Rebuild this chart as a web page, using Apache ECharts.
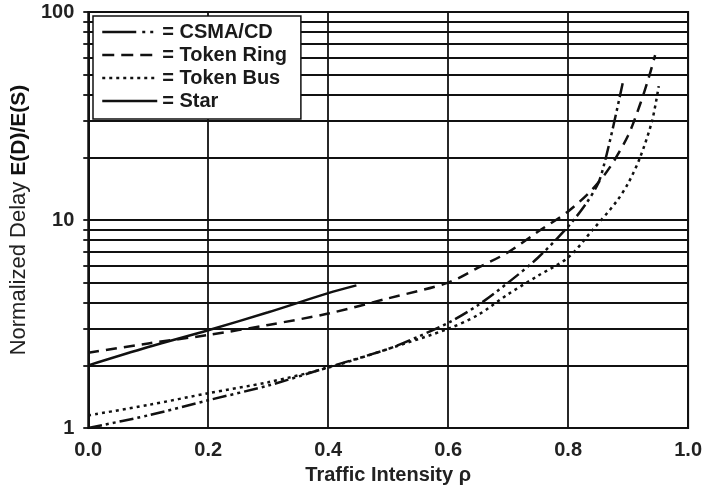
<!DOCTYPE html>
<html>
<head>
<meta charset="utf-8">
<script src="https://cdn.jsdelivr.net/npm/echarts@6/dist/echarts.min.js"></script>
<style>
  html, body { margin: 0; padding: 0; background: #fff; }
  #main { width: 705px; height: 494px; }
</style>
</head>
<body>
<div id="main"></div>
<script>
// 数据
var csmaRho   = [0, 0.1, 0.2, 0.3, 0.4, 0.5, 0.55, 0.6, 0.65, 0.7, 0.75, 0.8, 0.83, 0.85, 0.86, 0.875, 0.892];
var csmaDelay = [1.0, 1.15, 1.36, 1.6, 1.96, 2.4, 2.75, 3.2, 3.9, 5.0, 6.6, 9.3, 12, 15, 18.5, 28, 47];

var ringRho   = [0, 0.1, 0.2, 0.3, 0.4, 0.5, 0.6, 0.65, 0.7, 0.75, 0.8, 0.84, 0.87, 0.9, 0.92, 0.935, 0.945];
var ringDelay = [2.3, 2.55, 2.8, 3.13, 3.55, 4.2, 5.0, 5.9, 7.0, 8.8, 11, 14, 18, 25.5, 36, 49, 62];

var busRho    = [0, 0.1, 0.2, 0.3, 0.4, 0.5, 0.6, 0.65, 0.7, 0.75, 0.8, 0.84, 0.88, 0.9, 0.92, 0.94, 0.951];
var busDelay  = [1.15, 1.29, 1.47, 1.66, 1.95, 2.4, 3.0, 3.5, 4.4, 5.4, 6.6, 8.9, 12.2, 15, 20, 30, 44];

var starRho   = [0, 0.1, 0.2, 0.3, 0.4, 0.447];
var starDelay = [2.0, 2.45, 2.95, 3.6, 4.45, 4.85];

var seriesNames = ['CSMA/CD', 'Token Ring', 'Token Bus', 'Star'];
var yGridValues = [1, 2, 3, 4, 5, 6, 7, 8, 9, 10, 20, 30, 40, 50, 60, 70, 80, 90, 100];
var yLabelValues = [1, 10, 100];

// line patterns: plot / legend
var plotDash   = [[14, 4, 3, 4, 3, 4], [11, 7], [3, 4], 'solid'];
var legendDash = [[34, 6, 3, 5, 3, 20], [12, 7], [3, 4], 'solid'];

function pairs(xs, ys) {
    var out = [];
    for (var i = 0; i < xs.length; i++) {
        out.push([xs[i], ys[i]]);
    }
    return out;
}

var ink = '#111';
var font = '"Liberation Sans", Arial, sans-serif';

function makeLine(name, data, dash) {
    return {
        name: name,
        type: 'line',
        data: data,
        symbol: 'none',
        smooth: 0.3,
        lineStyle: { color: ink, width: 2.5, type: dash, cap: 'butt' },
        itemStyle: { color: ink },
        z: 5
    };
}

var legendData = [];
for (var k = 0; k < seriesNames.length; k++) {
    legendData.push({
        name: seriesNames[k],
        lineStyle: { type: legendDash[k], width: 2.5, color: ink }
    });
}

var myChart = echarts.init(document.getElementById('main'));

var option = {
    backgroundColor: '#fff',
    animation: false,
    textStyle: { fontFamily: font, color: ink },
    grid: {
        left: 82,
        right: 13,
        top: 12,
        bottom: 66,
        show: true,
        borderColor: ink,
        borderWidth: 2
    },
    legend: {
        data: legendData,
        orient: 'vertical',
        left: 93,
        top: 16,
        padding: [6, 14, 8, 8],
        itemGap: 3,
        itemWidth: 55,
        itemHeight: 14,
        backgroundColor: '#fff',
        borderColor: ink,
        borderWidth: 1.5,
        borderRadius: 0,
        itemStyle: { opacity: 0 },
        lineStyle: { width: 2.5 },
        formatter: function (name) { return '= ' + name; },
        textStyle: { fontFamily: font, fontSize: 20, fontWeight: 'bold', color: '#1a1a1a' }
    },
    xAxis: {
        type: 'value',
        min: 0,
        max: 1,
        interval: 0.2,
        name: 'Traffic Intensity ρ',
        nameLocation: 'middle',
        nameGap: 37,
        nameTextStyle: { fontFamily: font, fontSize: 20, fontWeight: 'bold', color: '#222' },
        axisLine: { show: true, lineStyle: { color: ink, width: 2 } },
        axisTick: { show: false },
        axisLabel: {
            fontFamily: font,
            fontSize: 20,
            fontWeight: 'bold',
            color: '#222',
            margin: 12,
            formatter: function (v) { return v.toFixed(1); }
        },
        splitLine: { show: true, lineStyle: { color: ink, width: 1.8 } }
    },
    yAxis: {
        type: 'log',
        logBase: 10,
        min: 1,
        max: 100,
        name: '{a|Normalized Delay }{b|E(D)/E(S)}',
        nameLocation: 'middle',
        nameGap: 57,
        nameTextStyle: {
            fontFamily: font,
            color: '#222',
            rich: {
                a: { fontFamily: font, fontSize: 22, color: '#222' },
                b: { fontFamily: font, fontSize: 21, fontWeight: 'bold', color: '#111' }
            }
        },
        axisLine: { show: true, lineStyle: { color: ink, width: 2 } },
        axisTick: {
            show: true,
            inside: false,
            length: 5,
            customValues: yGridValues,
            lineStyle: { color: ink, width: 1.8 }
        },
        axisLabel: {
            fontFamily: font,
            fontSize: 20,
            fontWeight: 'bold',
            color: '#222',
            margin: 14,
            customValues: yLabelValues
        },
        splitLine: { show: true, lineStyle: { color: ink, width: 1.8 } }
    },
    series: [
        makeLine('CSMA/CD', pairs(csmaRho, csmaDelay), plotDash[0]),
        makeLine('Token Ring', pairs(ringRho, ringDelay), plotDash[1]),
        makeLine('Token Bus', pairs(busRho, busDelay), plotDash[2]),
        makeLine('Star', pairs(starRho, starDelay), plotDash[3])
    ]
};

myChart.setOption(option);
window.addEventListener('resize', function () {
    myChart.resize();
});
</script>
</body>
</html>
